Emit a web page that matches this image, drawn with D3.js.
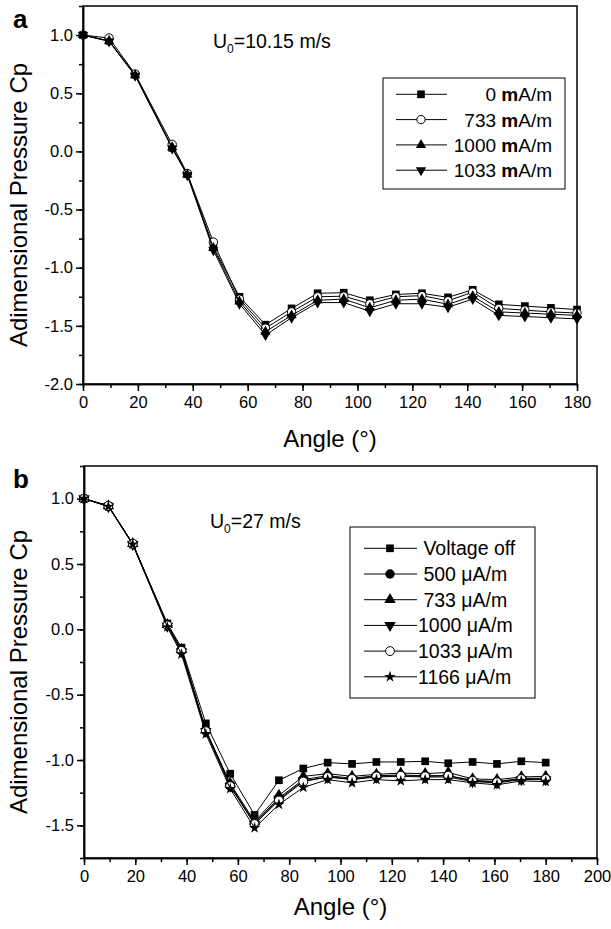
<!DOCTYPE html>
<html><head><meta charset="utf-8">
<script src="https://cdn.jsdelivr.net/npm/d3@7"></script>
<style>body{margin:0;background:#fff} svg{display:block;font-family:"Liberation Sans",Arial,Helvetica,sans-serif}</style>
</head><body>
<svg id="chart" width="611" height="929"></svg>
<script>
// ---------- data ----------
const angles = [0, 9.5, 19, 32.5, 38, 47.5, 57, 66.5, 76, 85.5, 95, 104.5, 114, 123.5, 133, 142, 151.5, 161, 170.5, 180];

const xTicksA = [0, 20, 40, 60, 80, 100, 120, 140, 160, 180];
const xTicksB = [0, 20, 40, 60, 80, 100, 120, 140, 160, 180, 200];
const yTicksA = [-2.0, -1.5, -1.0, -0.5, 0, 0.5, 1.0];
const yTicksB = [-1.5, -1.0, -0.5, 0, 0.5, 1.0];

// panel a : U0 = 10.15 m/s
const labelsA = ["0 ", "733 ", "1000 ", "1033 "];
const cpA_0    = [1.0, 0.95, 0.66, 0.03, -0.195, -0.82, -1.25, -1.49, -1.35, -1.22, -1.215, -1.28, -1.23, -1.22, -1.255, -1.19, -1.315, -1.33, -1.345, -1.36];
const cpA_733  = [1.0, 0.975, 0.665, 0.06, -0.19, -0.78, -1.27, -1.52, -1.38, -1.25, -1.245, -1.31, -1.25, -1.24, -1.285, -1.21, -1.35, -1.365, -1.38, -1.39];
const cpA_1000 = [1.0, 0.95, 0.655, 0.035, -0.2, -0.83, -1.29, -1.55, -1.41, -1.28, -1.27, -1.345, -1.28, -1.27, -1.315, -1.245, -1.38, -1.39, -1.40, -1.41];
const cpA_1033 = [1.0, 0.945, 0.65, 0.025, -0.205, -0.85, -1.31, -1.58, -1.43, -1.30, -1.30, -1.375, -1.31, -1.31, -1.34, -1.27, -1.41, -1.42, -1.43, -1.44];

// panel b : U0 = 27 m/s
const labelsB = [" Voltage off", " 500 \u03BCA/m", " 733 \u03BCA/m", "1000 \u03BCA/m", "1033 \u03BCA/m", "1166 \u03BCA/m"];
const cpB_off  = [1.0, 0.945, 0.655, 0.045, -0.14, -0.72, -1.105, -1.42, -1.155, -1.065, -1.02, -1.03, -1.015, -1.015, -1.01, -1.025, -1.015, -1.03, -1.01, -1.02];
const cpB_500  = [1.0, 0.945, 0.655, 0.03, -0.16, -0.77, -1.19, -1.48, -1.29, -1.15, -1.12, -1.14, -1.12, -1.115, -1.12, -1.12, -1.155, -1.165, -1.14, -1.14];
const cpB_733  = [1.0, 0.945, 0.655, 0.035, -0.155, -0.77, -1.18, -1.47, -1.27, -1.125, -1.105, -1.125, -1.11, -1.10, -1.105, -1.095, -1.145, -1.15, -1.13, -1.125];
const cpB_1000 = [1.0, 0.94, 0.65, 0.025, -0.17, -0.78, -1.20, -1.49, -1.30, -1.16, -1.13, -1.15, -1.13, -1.125, -1.13, -1.13, -1.165, -1.175, -1.15, -1.15];
const cpB_1033 = [1.0, 0.945, 0.655, 0.03, -0.165, -0.78, -1.20, -1.49, -1.31, -1.165, -1.13, -1.145, -1.125, -1.12, -1.125, -1.12, -1.16, -1.17, -1.145, -1.145];
const cpB_1166 = [1.0, 0.94, 0.65, 0.018, -0.19, -0.80, -1.22, -1.52, -1.34, -1.21, -1.15, -1.175, -1.15, -1.16, -1.15, -1.15, -1.175, -1.19, -1.16, -1.165];

// ---------- drawing ----------
const svg = d3.select("#chart");
const FONT_TICK = 16.5, FONT_TITLE = 24;

function markerPath(type, big) {
  const s = big ? 1.25 : 1;
  switch (type) {
    case "square": return d3.symbol().type(d3.symbolSquare).size(59)();
    case "circleOpen": return d3.symbol().type(d3.symbolCircle).size(big ? 62 : 55)();
    case "circleFilled": return d3.symbol().type(d3.symbolCircle).size(70)();
    case "triUp": case "triDown": return d3.symbol().type(d3.symbolTriangle).size(46 * s)();
    case "star": return d3.symbol().type(d3.symbolStar).size(40)();
  }
}
function drawMarker(g, type, x, y, big) {
  const p = g.append("path").attr("d", markerPath(type, big))
    .attr("transform", `translate(${x},${y})` + (type === "triDown" ? " rotate(180)" : ""));
  if (type === "circleOpen") p.attr("fill", "#fff").attr("stroke", "#000").attr("stroke-width", 1);
  else p.attr("fill", "#000");
}

function drawPanel(cfg) {
  const x = d3.scaleLinear().domain(cfg.xDomain).range([cfg.left, cfg.right]);
  const y = d3.scaleLinear().domain(cfg.yDomain).range([cfg.bottom, cfg.top]);
  const g = svg.append("g");

  // series
  cfg.series.forEach(s => {
    const pts = angles.map((a, i) => [a, s.values[i]]);
    g.append("path").attr("d", d3.line().x(d => x(d[0])).y(d => y(d[1]))(pts))
      .attr("fill", "none").attr("stroke", "#000").attr("stroke-width", 1);
    pts.forEach(d => drawMarker(g, s.marker, x(d[0]), y(d[1]), cfg.big));
  });

  // frame
  g.append("rect").attr("x", cfg.left).attr("y", cfg.top)
    .attr("width", cfg.right - cfg.left).attr("height", cfg.bottom - cfg.top)
    .attr("fill", "none").attr("stroke", "#000").attr("stroke-width", 1.5);

  // x axis
  const xMinor = d3.range(cfg.xDomain[0], cfg.xDomain[1] + 1, 10);
  const gxm = g.append("g").attr("transform", `translate(0,${cfg.bottom})`)
    .call(d3.axisBottom(x).tickValues(xMinor).tickSize(4).tickSizeOuter(0).tickFormat(""));
  const gx = g.append("g").attr("transform", `translate(0,${cfg.bottom})`)
    .call(d3.axisBottom(x).tickValues(cfg.xTicks).tickSize(7).tickSizeOuter(0).tickPadding(5).tickFormat(d => String(d)));
  // y axis
  const yMinor = d3.range(cfg.yDomain[0], cfg.yDomain[1] + 0.01, 0.25);
  const gym = g.append("g").attr("transform", `translate(${cfg.left},0)`)
    .call(d3.axisLeft(y).tickValues(yMinor).tickSize(4).tickSizeOuter(0).tickFormat(""));
  const gy = g.append("g").attr("transform", `translate(${cfg.left},0)`)
    .call(d3.axisLeft(y).tickValues(cfg.yTicks).tickSize(7).tickSizeOuter(0).tickPadding(3).tickFormat(d => d.toFixed(1)));
  [gxm, gx, gym, gy].forEach(a => {
    a.select(".domain").attr("stroke-width", 1.5);
    a.selectAll(".tick line").attr("stroke-width", 1.5);
    a.selectAll("text").attr("font-size", FONT_TICK).attr("font-family", null).attr("fill", "#000");
  });

  // titles
  svg.append("text").attr("x", (cfg.left + cfg.right) / 2).attr("y", cfg.xTitleY)
    .attr("text-anchor", "middle").attr("font-size", FONT_TITLE).text("Angle (\u00B0)");
  svg.append("text").attr("transform", `translate(${cfg.yTitleX},${cfg.yTitleC}) rotate(-90)`)
    .attr("text-anchor", "middle").attr("font-size", FONT_TITLE).text("Adimensional Pressure Cp");
  svg.append("text").attr("x", cfg.letterX).attr("y", cfg.letterY)
    .attr("font-size", 26).attr("font-weight", "bold").text(cfg.letter);

  // velocity note
  const u = svg.append("text").attr("x", cfg.uX).attr("y", cfg.uY).attr("font-size", 19.5);
  u.append("tspan").text("U");
  u.append("tspan").attr("dy", 5).attr("font-size", 12).text("0");
  u.append("tspan").attr("dy", -5).text(cfg.uText);

  // legend
  const L = cfg.legend;
  svg.append("rect").attr("x", L.x0).attr("y", L.y0).attr("width", L.x1 - L.x0).attr("height", L.y1 - L.y0)
    .attr("fill", "#fff").attr("stroke", "#000").attr("stroke-width", 1);
  cfg.series.forEach((s, i) => {
    const ry = L.rowY + i * L.rowH;
    svg.append("line").attr("x1", L.lineX0).attr("x2", L.lineX1).attr("y1", ry).attr("y2", ry)
      .attr("stroke", "#000").attr("stroke-width", 1);
    drawMarker(svg, s.marker, L.markX, ry, cfg.big);
    const t = svg.append("text").attr("x", L.textX).attr("y", ry + 7).attr("font-size", L.font)
      .attr("text-anchor", L.anchor).style("white-space", "pre");
    if (cfg.letter === "a") {
      t.append("tspan").text(s.label);
      t.append("tspan").attr("font-weight", "bold").text("m");
      t.append("tspan").text("A/m");
    } else {
      t.text(s.label);
    }
  });
}

drawPanel({
  letter: "a", letterX: 13, letterY: 28,
  left: 83, right: 577, top: 6, bottom: 384,
  xDomain: [0, 180], yDomain: [-2.0, 1.25], xTicks: xTicksA, yTicks: yTicksA,
  xTitleY: 447, yTitleX: 27, yTitleC: 205,
  uX: 213, uY: 48, uText: "=10.15 m/s", big: false,
  series: [
    { label: labelsA[0], values: cpA_0, marker: "square" },
    { label: labelsA[1], values: cpA_733, marker: "circleOpen" },
    { label: labelsA[2], values: cpA_1000, marker: "triUp" },
    { label: labelsA[3], values: cpA_1033, marker: "triDown" }
  ],
  legend: { x0: 383, x1: 565, y0: 78, y1: 189, rowY: 94.3, rowH: 25.3, lineX0: 396, lineX1: 447, markX: 421,
            textX: 552, anchor: "end", font: 19 }
});

drawPanel({
  letter: "b", letterX: 13, letterY: 488,
  left: 84, right: 597, top: 466, bottom: 858,
  xDomain: [0, 200], yDomain: [-1.75, 1.25], xTicks: xTicksB, yTicks: yTicksB,
  xTitleY: 915, yTitleX: 27, yTitleC: 672,
  uX: 210, uY: 528, uText: "=27 m/s", big: true,
  series: [
    { label: labelsB[0], values: cpB_off, marker: "square" },
    { label: labelsB[1], values: cpB_500, marker: "circleFilled" },
    { label: labelsB[2], values: cpB_733, marker: "triUp" },
    { label: labelsB[3], values: cpB_1000, marker: "triDown" },
    { label: labelsB[4], values: cpB_1033, marker: "circleOpen" },
    { label: labelsB[5], values: cpB_1166, marker: "star" }
  ],
  legend: { x0: 350, x1: 535, y0: 527, y1: 698, rowY: 548.3, rowH: 25.7, lineX0: 364, lineX1: 417, markX: 390,
            textX: 418, anchor: "start", font: 19.5 }
});
</script>
</body></html>
